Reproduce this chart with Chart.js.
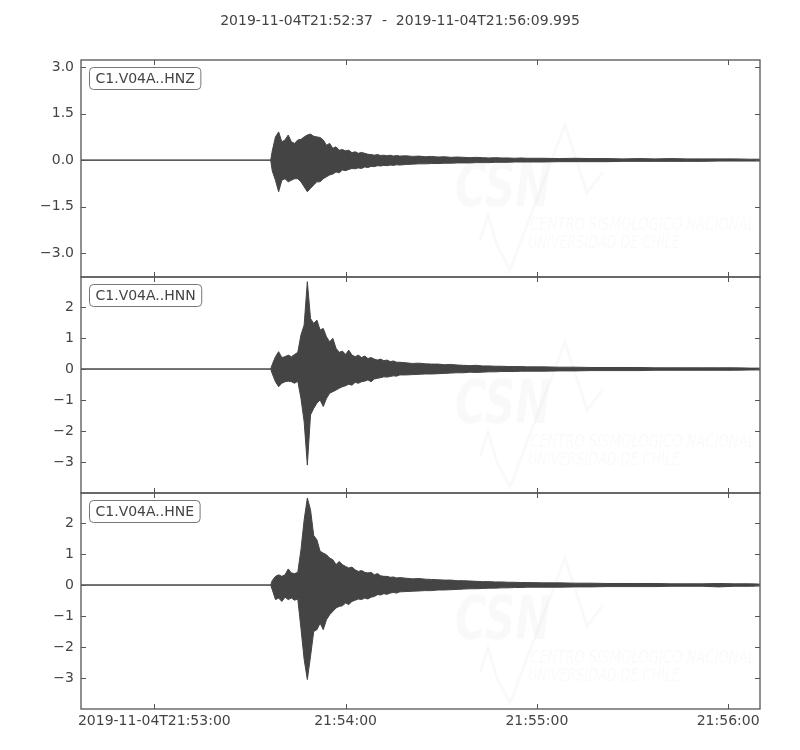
<!DOCTYPE html>
<html>
<head>
<meta charset="utf-8">
<script src="https://cdn.jsdelivr.net/npm/chart.js@4/dist/chart.umd.min.js"></script>
<style>
  body { margin: 0; background: #fff; }
  #wrap { position: relative; width: 800px; height: 750px; }
  #wrap canvas { position: absolute; left: 0; top: 0; }
</style>
</head>
<body>
<div id="wrap">
  <canvas id="hnz" width="800" height="750"></canvas>
  <canvas id="hnn" width="800" height="750"></canvas>
  <canvas id="hne" width="800" height="750"></canvas>
</div>
<script>
// seconds after 2019-11-04T21:52:37
const title = '2019-11-04T21:52:37  -  2019-11-04T21:56:09.995'
const xMax = 212.995
const xTickValues = [23, 83, 143, 203]
const xTickLabels = ['2019-11-04T21:53:00', '21:54:00', '21:55:00', '21:56:00']

const yTicksZ = [-3, -1.5, 0, 1.5, 3]
const yLabelsZ = ['\u22123.0', '\u22121.5', '0.0', '1.5', '3.0']
const yTicksNE = [-3, -2, -1, 0, 1, 2]
const yLabelsNE = ['\u22123', '\u22122', '\u22121', '0', '1', '2']

const times = [0, 59.5,
  60, 61, 62, 63, 64, 65, 66, 67, 68, 69,
  70, 71, 72, 73, 74, 75, 76, 77, 78, 79,
  80, 81, 82, 83, 84, 85, 86, 87, 88, 89,
  90, 91, 92, 93, 94, 95, 96, 97, 98, 99, 100,
  102, 104, 106, 108, 110, 112, 114, 116, 118, 120,
  122, 124, 126, 128, 130, 132, 134, 136, 138, 140,
  145, 150, 155, 160, 165, 170, 175, 180, 185, 190, 195, 200, 205, 210, 212.9]

// envelope (max / min) of each trace
const hnzHi = [0, 0,
  0.3, 0.75, 0.91, 0.59, 0.65, 0.81, 0.59, 0.54, 0.65, 0.67,
  0.75, 0.81, 0.84, 0.77, 0.75, 0.73, 0.65, 0.48, 0.54, 0.38,
  0.43, 0.32, 0.34, 0.3, 0.32, 0.24, 0.27, 0.22, 0.25, 0.22,
  0.19, 0.18, 0.16, 0.18, 0.15, 0.16, 0.14, 0.16, 0.13, 0.15, 0.13,
  0.14, 0.12, 0.13, 0.11, 0.12, 0.1, 0.11, 0.09, 0.1, 0.09,
  0.08, 0.09, 0.08, 0.07, 0.08, 0.07, 0.07, 0.06, 0.07, 0.06,
  0.06, 0.05, 0.06, 0.05, 0.05, 0.04, 0.05, 0.04, 0.05, 0.04, 0.04, 0.04, 0.04, 0.03, 0.03]
const hnzLo = [0, 0,
  -0.35, -0.65, -1.02, -0.65, -0.6, -0.7, -0.65, -0.6, -0.6, -0.7,
  -0.86, -1.02, -0.91, -0.8, -0.7, -0.7, -0.6, -0.54, -0.48, -0.45,
  -0.38, -0.41, -0.32, -0.34, -0.3, -0.27, -0.28, -0.25, -0.27, -0.22,
  -0.24, -0.2, -0.21, -0.18, -0.19, -0.17, -0.18, -0.16, -0.17, -0.15, -0.16,
  -0.14, -0.13, -0.12, -0.12, -0.11, -0.11, -0.1, -0.1, -0.09, -0.09,
  -0.09, -0.08, -0.08, -0.08, -0.07, -0.07, -0.07, -0.06, -0.06, -0.06,
  -0.06, -0.05, -0.05, -0.05, -0.05, -0.04, -0.04, -0.04, -0.04, -0.04, -0.04, -0.03, -0.03, -0.03, -0.03]

const hnnHi = [0, 0,
  0.15, 0.4, 0.56, 0.37, 0.4, 0.45, 0.4, 0.47, 0.54, 1.1,
  1.42, 2.82, 1.63, 1.47, 1.58, 1.26, 1.31, 1.04, 0.88, 0.99,
  0.67, 0.54, 0.58, 0.47, 0.61, 0.45, 0.4, 0.45, 0.37, 0.42,
  0.34, 0.37, 0.32, 0.29, 0.32, 0.27, 0.29, 0.24, 0.26, 0.22, 0.22,
  0.2, 0.18, 0.19, 0.17, 0.16, 0.16, 0.14, 0.15, 0.13, 0.12,
  0.11, 0.12, 0.1, 0.1, 0.09, 0.09, 0.08, 0.08, 0.08, 0.07,
  0.07, 0.06, 0.06, 0.05, 0.05, 0.05, 0.05, 0.04, 0.04, 0.04, 0.04, 0.04, 0.04, 0.03, 0.03]
const hnnLo = [0, 0,
  -0.15, -0.41, -0.57, -0.46, -0.41, -0.39, -0.41, -0.46, -0.39, -0.95,
  -1.7, -3.1, -1.48, -1.27, -1.1, -1.0, -1.21, -0.95, -0.78, -0.73,
  -0.68, -0.62, -0.57, -0.54, -0.49, -0.52, -0.43, -0.46, -0.41, -0.39,
  -0.35, -0.41, -0.32, -0.3, -0.28, -0.25, -0.26, -0.24, -0.22, -0.23, -0.19,
  -0.19, -0.18, -0.17, -0.16, -0.16, -0.15, -0.14, -0.13, -0.12, -0.12,
  -0.1, -0.11, -0.1, -0.09, -0.09, -0.08, -0.08, -0.08, -0.07, -0.07,
  -0.07, -0.06, -0.06, -0.05, -0.05, -0.05, -0.05, -0.04, -0.04, -0.04, -0.04, -0.04, -0.04, -0.03, -0.03]

const hneHi = [0, 0,
  0.15, 0.28, 0.33, 0.28, 0.33, 0.52, 0.39, 0.37, 0.41, 1.14,
  2.1, 2.81, 2.43, 1.6, 1.46, 1.09, 1.03, 0.98, 0.87, 0.82,
  0.66, 0.76, 0.66, 0.6, 0.55, 0.58, 0.49, 0.44, 0.47, 0.41,
  0.39, 0.41, 0.33, 0.37, 0.3, 0.28, 0.28, 0.25, 0.26, 0.23, 0.24,
  0.22, 0.2, 0.21, 0.19, 0.18, 0.17, 0.16, 0.16, 0.14, 0.14,
  0.13, 0.12, 0.11, 0.11, 0.1, 0.1, 0.09, 0.09, 0.08, 0.08,
  0.07, 0.07, 0.06, 0.06, 0.05, 0.05, 0.05, 0.05, 0.04, 0.04, 0.04, 0.05, 0.04, 0.04, 0.03]
const hneLo = [0, 0,
  -0.15, -0.47, -0.42, -0.53, -0.39, -0.47, -0.42, -0.49, -0.45, -1.4,
  -2.4, -3.05, -2.3, -1.5, -1.44, -1.23, -1.44, -1.12, -0.96, -0.85,
  -0.74, -0.69, -0.67, -0.58, -0.63, -0.53, -0.49, -0.45, -0.47, -0.42,
  -0.45, -0.39, -0.37, -0.31, -0.32, -0.28, -0.3, -0.26, -0.24, -0.26, -0.22,
  -0.21, -0.2, -0.19, -0.18, -0.18, -0.16, -0.16, -0.15, -0.14, -0.13,
  -0.12, -0.12, -0.11, -0.1, -0.1, -0.09, -0.09, -0.08, -0.08, -0.07,
  -0.07, -0.07, -0.06, -0.06, -0.05, -0.05, -0.05, -0.05, -0.04, -0.04, -0.04, -0.06, -0.04, -0.04, -0.03]

const traceColor = '#444'
const axisColor = '#555'

Chart.defaults.font.family = '"DejaVu Sans", sans-serif'
Chart.defaults.font.size = 14
Chart.defaults.color = '#444'

// frame, inward ticks, trace label box and the faint CSN watermark
const panelPlugin = {
  id: 'panel',
  beforeDatasetsDraw(chart) {
    const { ctx, chartArea: a } = chart
    const x0 = a.left, y0 = a.top
    ctx.save()
    ctx.fillStyle = 'rgba(0,0,0,0.025)'
    ctx.strokeStyle = 'rgba(0,0,0,0.025)'
    ctx.font = 'italic bold 60px "Liberation Sans Narrow", "DejaVu Sans Condensed", sans-serif'
    ctx.fillText('CSN', x0 + 374, y0 + 146, 96)
    ctx.font = 'italic 18px "Liberation Sans Narrow", "DejaVu Sans Condensed", sans-serif'
    ctx.fillText('CENTRO SISMOL\u00D3GICO NACIONAL', x0 + 449, y0 + 170, 225)
    ctx.fillText('UNIVERSIDAD DE CHILE', x0 + 447, y0 + 188, 152)
    ctx.lineWidth = 3
    ctx.beginPath()
    const w = [[399, 180], [407, 155], [416, 185], [429, 210], [484, 65], [506, 133], [522, 112]]
    w.forEach(([dx, dy], i) => i ? ctx.lineTo(x0 + dx, y0 + dy) : ctx.moveTo(x0 + dx, y0 + dy))
    ctx.stroke()
    ctx.restore()
  },
  afterDraw(chart, args, opts) {
    const { ctx, chartArea: a, scales } = chart
    ctx.save()
    ctx.strokeStyle = axisColor
    ctx.lineWidth = 1.3
    ctx.strokeRect(a.left, a.top, a.right - a.left, a.bottom - a.top)
    ctx.lineWidth = 1
    ctx.beginPath()
    xTickValues.forEach(v => {
      const px = Math.round(scales.x.getPixelForValue(v)) + 0.5
      ctx.moveTo(px, a.top); ctx.lineTo(px, a.top + 5)
      ctx.moveTo(px, a.bottom); ctx.lineTo(px, a.bottom - 5)
    })
    scales.y.ticks.forEach(t => {
      const py = Math.round(scales.y.getPixelForValue(t.value)) + 0.5
      ctx.moveTo(a.left, py); ctx.lineTo(a.left + 5, py)
      ctx.moveTo(a.right, py); ctx.lineTo(a.right - 5, py)
    })
    ctx.stroke()

    ctx.font = '14px "DejaVu Sans", sans-serif'
    const tw = ctx.measureText(opts.label).width
    const bx = a.left + 8.5, by = a.top + 7.5
    ctx.beginPath()
    ctx.roundRect(bx, by, tw + 12, 22, 4)
    ctx.fillStyle = '#fff'
    ctx.fill()
    ctx.strokeStyle = '#777'
    ctx.stroke()
    ctx.fillStyle = '#444'
    ctx.textBaseline = 'middle'
    ctx.fillText(opts.label, bx + 6, by + 11.5)
    ctx.restore()
  }
}

function traceChart(id, label, hi, lo, yMin, yMax, yTicks, yLabels, padTop, padBottom, showX, showTitle) {
  return new Chart(document.getElementById(id), {
    type: 'line',
    data: {
      datasets: [
        { data: times.map((t, i) => ({ x: t, y: hi[i] })), borderColor: traceColor, backgroundColor: traceColor, borderWidth: 1, fill: '+1' },
        { data: times.map((t, i) => ({ x: t, y: lo[i] })), borderColor: traceColor, backgroundColor: traceColor, borderWidth: 1, fill: false }
      ]
    },
    options: {
      responsive: false,
      animation: false,
      events: [],
      elements: { point: { radius: 0 }, line: { tension: 0 } },
      layout: { padding: { left: 40, right: 40, top: padTop, bottom: padBottom } },
      plugins: {
        legend: { display: false },
        tooltip: { enabled: false },
        title: {
          display: showTitle,
          text: title,
          color: '#444',
          font: { size: 14, weight: 'normal' },
          padding: { top: 13, bottom: 30.2 }
        },
        panel: { label: label }
      },
      scales: {
        x: {
          type: 'linear',
          display: showX,
          min: 0,
          max: xMax,
          grid: { display: false, drawTicks: false },
          border: { display: false },
          afterBuildTicks: s => { s.ticks = xTickValues.map(v => ({ value: v })) },
          afterFit: s => { s.height = showX ? 30 : 0 },
          ticks: { padding: 4, maxRotation: 0, autoSkip: false, callback: (v, i) => xTickLabels[i] }
        },
        y: {
          type: 'linear',
          min: yMin,
          max: yMax,
          grid: { display: false, drawTicks: false },
          border: { display: false },
          afterBuildTicks: s => { s.ticks = yTicks.map(v => ({ value: v })) },
          afterFit: s => { s.width = 41 },
          ticks: { padding: 7, callback: (v, i) => yLabels[i] }
        }
      }
    },
    plugins: [panelPlugin]
  })
}

traceChart('hnz', 'C1.V04A..HNZ', hnzHi, hnzLo, -3.77, 3.23, yTicksZ, yLabelsZ, 0, 473, false, true)
traceChart('hnn', 'C1.V04A..HNN', hnnHi, hnnLo, -4.0, 2.97, yTicksNE, yLabelsNE, 277, 257, false, false)
traceChart('hne', 'C1.V04A..HNE', hneHi, hneLo, -4.0, 2.97, yTicksNE, yLabelsNE, 493, 11, true, false)
</script>
</body>
</html>
